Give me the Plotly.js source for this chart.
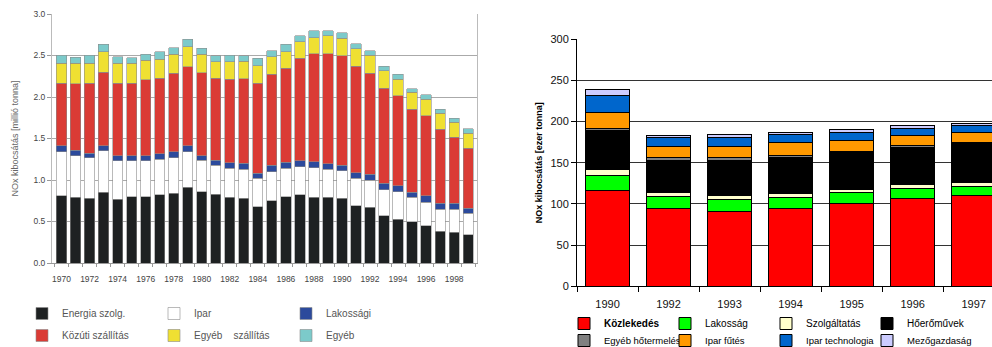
<!DOCTYPE html>
<html>
<head>
<meta charset="utf-8">
<script src="https://cdn.plot.ly/plotly-3.0.1.min.js"></script>
<style>html,body{margin:0;padding:0;background:#fff;overflow:hidden}#chart{width:992px;height:347px}</style>
</head>
<body>
<div id="chart"></div>
<script>
// ---- Left chart data (millió tonna) ----
const yearsLeft = [1970,1971,1972,1973,1974,1975,1976,1977,1978,1979,1980,1981,1982,1983,1984,1985,1986,1987,1988,1989,1990,1991,1992,1993,1994,1995,1996,1997,1998,1999];
const energiaSzolg = [0.81,0.79,0.78,0.85,0.77,0.80,0.80,0.82,0.84,0.91,0.86,0.83,0.79,0.78,0.68,0.75,0.80,0.82,0.79,0.79,0.78,0.69,0.67,0.57,0.53,0.50,0.45,0.38,0.37,0.34];
const ipar = [0.53,0.50,0.49,0.50,0.46,0.43,0.43,0.43,0.43,0.43,0.38,0.35,0.35,0.35,0.34,0.35,0.34,0.34,0.36,0.34,0.33,0.33,0.33,0.31,0.33,0.29,0.28,0.27,0.28,0.26];
const lakossagi = [0.07,0.07,0.055,0.06,0.065,0.065,0.065,0.065,0.07,0.075,0.055,0.06,0.067,0.07,0.06,0.077,0.073,0.073,0.067,0.065,0.065,0.068,0.068,0.08,0.073,0.064,0.08,0.069,0.072,0.061];
const kozutiSzallitas = [0.755,0.80,0.84,0.89,0.87,0.87,0.915,0.91,0.945,0.95,1.0,0.985,1.005,1.02,1.085,1.096,1.132,1.233,1.306,1.325,1.321,1.285,1.217,1.144,1.08,1.0,0.964,0.891,0.791,0.723];
const egyebSzallitas = [0.24,0.245,0.24,0.245,0.24,0.24,0.235,0.23,0.23,0.24,0.22,0.20,0.21,0.21,0.21,0.21,0.20,0.20,0.193,0.221,0.213,0.209,0.221,0.213,0.201,0.201,0.201,0.193,0.185,0.18];
const egyeb = [0.10,0.075,0.10,0.09,0.08,0.07,0.07,0.09,0.08,0.09,0.07,0.07,0.08,0.07,0.09,0.072,0.09,0.07,0.08,0.06,0.068,0.061,0.052,0.056,0.06,0.044,0.052,0.052,0.048,0.052];
const leftNames = ['Energia szolg.','Ipar','Lakossági','Közúti szállítás','Egyéb\u00a0\u00a0\u00a0 szállítás','Egyéb'];

// ---- Right chart data (ezer tonna) ----
const yearsRight = ['1990','1992','1993','1994','1995','1996','1997'];
const kozlekedes = [116,94,91,94,101,106,110];
const lakossag = [19,15,14,14,13,13,11];
const szolgaltatas = [7,5,5,4,4,5,5];
const hoeromuvek = [47,39,43,44,44,44,47];
const egyebHotermeles = [3,3,3,3,2,3,2];
const iparFutes = [19,14,13,15,13,12,11];
const iparTechnologia = [21,10,11,10,9,9,9];
const mezogazdasag = [7,3,4,3,4,3,3];
const rightNames = ['<b>Közlekedés</b>','Lakosság','Szolgáltatás','Hőerőművek','Egyéb hőtermelés','Ipar fűtés','Ipar technologia','Mezőgazdaság'];

const FONT = 'Liberation Sans, Arial, Helvetica, sans-serif';

const leftSeries = [energiaSzolg, ipar, lakossagi, kozutiSzallitas, egyebSzallitas, egyeb];
const leftColors = ['#1e2122','#ffffff','#2c4a9c','#da3b35','#efe032','#7ccaca'];
const leftLegends = ['legend','legend','legend','legend2','legend2','legend2'];

const rightSeries = [kozlekedes, lakossag, szolgaltatas, hoeromuvek, egyebHotermeles, iparFutes, iparTechnologia, mezogazdasag];
const rightColors = ['#ff0000','#00ff00','#ffffcc','#000000','#808080','#ff9900','#0066cc','#ccccff'];
const rightLegends = ['legend3','legend3','legend3','legend3','legend4','legend4','legend4','legend4'];

const traces = [];
leftSeries.forEach((vals, i) => {
  traces.push({
    type: 'bar', x: yearsLeft, y: vals, name: leftNames[i],
    xaxis: 'x', yaxis: 'y', width: 0.73,
    marker: {color: leftColors[i], line: {color: '#8c8c8c', width: 0.6}},
    legend: leftLegends[i], hoverinfo: 'skip'
  });
});
rightSeries.forEach((vals, i) => {
  const t = {
    type: 'bar', x: yearsRight, y: vals, name: rightNames[i],
    xaxis: 'x2', yaxis: 'y2', width: 0.72,
    marker: {color: rightColors[i], line: {color: '#000', width: 1}},
    legend: rightLegends[i], hoverinfo: 'skip'
  };
  if (i === 3 || i === 7) t.legendwidth = 80;
  traces.push(t);
});

const W = 992, H = 347;
const legLeftFont = {family: FONT, size: 10, color: '#555'};

const layout = {
  width: W, height: H,
  margin: {l: 0, r: 0, t: 0, b: 0, autoexpand: false},
  paper_bgcolor: '#fff', plot_bgcolor: '#fff',
  barmode: 'stack',
  font: {family: FONT},
  showlegend: true,
  xaxis: {
    domain: [52 / W, 477 / W], anchor: 'y',
    range: [1969.32, 1999.63],
    tickmode: 'linear', tick0: 1970, dtick: 2, ticks: '',
    tickfont: {family: FONT, size: 8.5, color: '#444'},
    showline: true, linecolor: '#999', linewidth: 1,
    showgrid: false, zeroline: false,
    minor: {tick0: 1969.5, dtick: 1, ticks: 'outside', ticklen: 3, tickcolor: '#999', showgrid: false},
    ticklabelstandoff: 8
  },
  yaxis: {
    domain: [1 - 263 / H, 1 - 14 / H], anchor: 'x',
    range: [0, 3], tickmode: 'linear', tick0: 0, dtick: 0.5, tickformat: '.1f',
    ticks: 'outside', ticklen: 4, tickcolor: '#999',
    showline: true, mirror: true, linecolor: '#bbb', linewidth: 1,
    gridcolor: '#aaa', gridwidth: 1, zeroline: false,
    tickfont: {family: FONT, size: 8.5, color: '#444'},
    title: {text: 'NOx kibocsátás [millió tonna]', font: {family: FONT, size: 9, color: '#666'}, standoff: 13}
  },
  xaxis2: {
    domain: [577 / W, 1], anchor: 'y2', type: 'category',
    range: [-0.5, 6.3],
    ticks: 'outside', tickson: 'boundaries', ticklen: 5, tickcolor: '#000',
    showline: true, linecolor: '#000', linewidth: 1,
    showgrid: false, zeroline: false,
    tickfont: {family: FONT, size: 11, color: '#111'},
    ticklabelstandoff: 7
  },
  yaxis2: {
    domain: [1 - 286.3 / H, 1 - 39 / H], anchor: 'x2',
    range: [0, 300], tickmode: 'linear', tick0: 0, dtick: 50,
    ticks: 'outside', ticklen: 5, tickcolor: '#000',
    showline: true, linecolor: '#000', linewidth: 1,
    gridcolor: '#333', gridwidth: 1, zeroline: false,
    tickfont: {family: FONT, size: 11, color: '#111'},
    title: {text: 'NOx kibocsátás [ezer tonna]', font: {family: FONT, size: 9, color: '#000', weight: 'bold'}, standoff: 6}
  },
  legend: {orientation: 'h', x: 22 / W, xanchor: 'left', y: 1 - 299 / H, yanchor: 'top',
    entrywidth: 87, entrywidthmode: 'pixels', font: legLeftFont, bgcolor: 'rgba(0,0,0,0)', borderwidth: 0, traceorder: 'normal'},
  legend2: {orientation: 'h', x: 22 / W, xanchor: 'left', y: 1 - 321 / H, yanchor: 'top',
    entrywidth: 87, entrywidthmode: 'pixels', font: legLeftFont, bgcolor: 'rgba(0,0,0,0)', borderwidth: 0, traceorder: 'normal'},
  legend3: {orientation: 'h', x: 564 / W, xanchor: 'left', y: 1 - 309 / H, yanchor: 'top',
    entrywidth: 56, entrywidthmode: 'pixels', font: {family: FONT, size: 10, color: '#000'}, bgcolor: 'rgba(0,0,0,0)', borderwidth: 0, traceorder: 'normal'},
  legend4: {orientation: 'h', x: 564 / W, xanchor: 'left', y: 1 - 326 / H, yanchor: 'top',
    entrywidth: 56, entrywidthmode: 'pixels', font: {family: FONT, size: 9.5, color: '#000'}, bgcolor: 'rgba(0,0,0,0)', borderwidth: 0, traceorder: 'normal'}
};

Plotly.newPlot('chart', traces, layout, {staticPlot: true, displayModeBar: false});
</script>
</body>
</html>
